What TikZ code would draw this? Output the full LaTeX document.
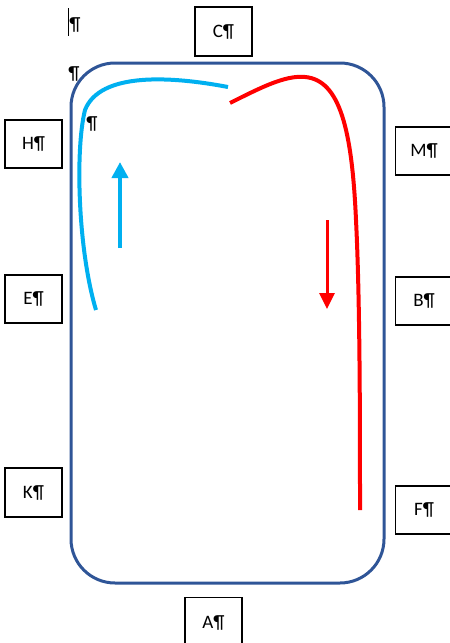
\documentclass[tikz,border=0pt]{standalone}
\usepackage{fontspec}
\setmainfont{Carlito}
\usetikzlibrary{arrows.meta}
\definecolor{frame}{RGB}{47,85,151}
\definecolor{cyanline}{RGB}{0,176,240}
\definecolor{redline}{RGB}{255,0,0}
\tikzset{
  letterbox/.style={draw=black,line width=1.2pt,fill=white,inner sep=0pt,font=\fontsize{19}{19}\selectfont},
  pil/.style={inner sep=0pt,font=\fontsize{19}{19}\selectfont},
  bluepath/.style={draw=cyanline,line width=4pt},
  redpath/.style={draw=redline,line width=4pt},
}
\begin{document}
\begin{tikzpicture}[x=1pt,y=-1pt]
\useasboundingbox (0,0) rectangle (450,643);
% arena
\draw[frame,line width=3pt,rounded corners=44pt] (71,63) rectangle (384,583);
% boxes
\node[letterbox,minimum width=57pt,minimum height=49pt] (C) at (223.5,31.5) {C¶};
\node[letterbox,minimum width=57pt,minimum height=48pt] (H) at (33.5,144) {H¶};
\node[letterbox,minimum width=57pt,minimum height=48pt] (E) at (33.5,299) {E¶};
\node[letterbox,minimum width=57pt,minimum height=49pt] (K) at (33.5,492.5) {K¶};
\node[letterbox,minimum width=57pt,minimum height=48pt,anchor=west] (M) at (395,151) {M¶};
\node[letterbox,minimum width=57pt,minimum height=48pt,anchor=west] (B) at (395,301) {B¶};
\node[letterbox,minimum width=57pt,minimum height=48pt,anchor=west] (F) at (395,510) {F¶};
\node[letterbox,minimum width=57pt,minimum height=50pt,anchor=north] (A) at (213.5,597) {A¶};
% loose pilcrows
\node[pil] (p1) at (75,25) {¶};
\draw[line width=1pt] (68,8) -- (68,36);
\node[pil] (p2) at (74,74) {¶};
\node[pil] (p3) at (92,124) {¶};
% blue curve
\coordinate (bs) at (228,87);
\coordinate (bc) at (85,110);
\coordinate (be) at (96,310);
\draw[bluepath] (bs) .. controls (170,76) and (100,72) .. (bc) .. controls (75,150) and (78,250) .. (be);
% red curve
\coordinate (rs) at (230,103);
\coordinate (rt) at (305,77);
\coordinate (rm) at (356,220);
\coordinate (re) at (360,510);
\draw[redpath] (rs) .. controls (260,88) and (285,75) .. (rt) .. controls (340,80) and (352,130) .. (rm) .. controls (360,300) and (360,420) .. (re);
% arrows
\coordinate (ba1) at (120,248);
\coordinate (ba2) at (120,162);
\draw[cyanline,line width=4pt,-{Triangle[length=16pt,width=16pt]}] (ba1) -- (ba2);
\coordinate (ra1) at (327,220);
\coordinate (ra2) at (327,309);
\draw[redline,line width=3pt,-{Triangle[length=16pt,width=15pt]}] (ra1) -- (ra2);
\end{tikzpicture}
\end{document}
